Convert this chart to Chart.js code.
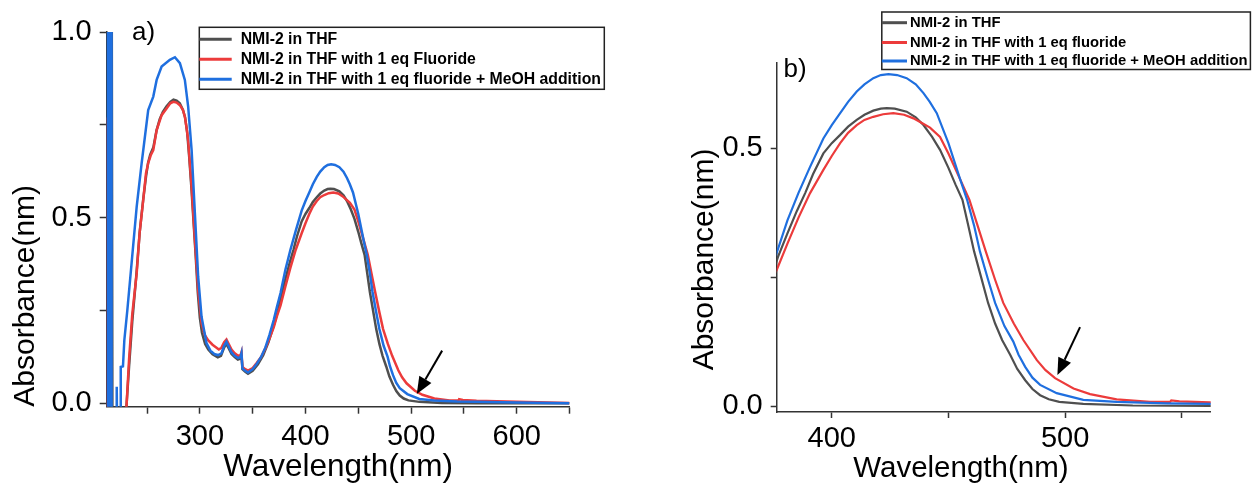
<!DOCTYPE html>
<html>
<head>
<meta charset="utf-8">
<script src="https://cdn.jsdelivr.net/npm/chart.js@4"></script>
<style>
  html, body { margin: 0; padding: 0; background: #fff; }
  #wrap { position: relative; width: 1252px; height: 484px; }
  #panelA { position: absolute; left: 0; top: 0; }
  #panelB { position: absolute; left: 640px; top: 0; }
</style>
</head>
<body>
<div id="wrap">
  <canvas id="panelA" width="640" height="484"></canvas>
  <canvas id="panelB" width="612" height="484"></canvas>
</div>
<script>
// UV-vis absorbance spectra of NMI-2 (panel a: full range, panel b: visible band)

const thfNm = [212, 216.6, 217.2, 229.5, 230.7, 233, 236, 240, 243, 246.4, 249, 251, 253, 256, 259, 262, 265, 268.5, 272, 275, 278, 281, 284, 286, 288, 290, 292, 294, 296, 298, 300, 302, 305, 308, 312, 317, 320, 323, 325, 327, 330, 333, 336, 338, 339.4, 340.3, 343, 345.6, 350, 355, 360, 365, 370, 374, 377, 381, 385, 388.6, 392, 396.4, 400, 403.6, 407, 410.7, 414, 417.8, 421, 423.6, 427, 432.1, 436, 439.3, 443, 446.4, 450, 453, 456, 458.5, 461, 464, 467, 470, 473, 476.4, 479.5, 482.9, 486, 489.3, 493, 497.5, 507.8, 529, 562, 600, 650];
const thfAbs = [1.05, 1.05, -0.05, -0.05, 0.0, 0.1, 0.22, 0.35, 0.46, 0.55, 0.61, 0.648, 0.67, 0.69, 0.735, 0.765, 0.785, 0.8, 0.812, 0.818, 0.815, 0.808, 0.79, 0.77, 0.73, 0.66, 0.58, 0.49, 0.4, 0.3, 0.23, 0.19, 0.16, 0.145, 0.132, 0.124, 0.128, 0.15, 0.16, 0.15, 0.133, 0.125, 0.118, 0.12, 0.13, 0.092, 0.085, 0.08, 0.088, 0.105, 0.13, 0.165, 0.21, 0.25, 0.29, 0.335, 0.378, 0.413, 0.45, 0.49, 0.51, 0.526, 0.542, 0.555, 0.565, 0.573, 0.577, 0.578, 0.577, 0.571, 0.56, 0.545, 0.522, 0.497, 0.462, 0.43, 0.4, 0.35, 0.3, 0.25, 0.2, 0.16, 0.128, 0.1, 0.072, 0.05, 0.033, 0.021, 0.013, 0.008, 0.004, 0.001, 0.0, 0.0, 0.0];

const fluorNm = [211.9, 212.2, 229.5, 230.7, 233, 236, 240.2, 243, 246.4, 249, 251.1, 253.5, 255.9, 259.1, 263.8, 268.5, 272, 274.8, 278, 281.1, 284, 285.8, 287.5, 288.9, 292.2, 295.3, 298.4, 301.6, 304.5, 307.8, 312, 315.8, 318, 320.5, 323, 325.2, 327, 330, 333, 336.2, 338.5, 339.4, 340.3, 343, 345.6, 350, 353.6, 358, 362, 366, 370, 373, 376.4, 381, 385.7, 390.7, 396.4, 400, 403.6, 407, 410.7, 414, 417.8, 422, 426.4, 431, 435, 439, 442.1, 446.4, 450, 455, 459, 462.5, 466, 470, 473.5, 478, 482.1, 487.9, 491.5, 495.7, 503.6, 510.7, 522.1, 536.4, 545, 545.5, 549, 562, 600, 650];
const fluorAbs = [0.77, -0.05, -0.05, 0.0, 0.12, 0.24, 0.35, 0.46, 0.548, 0.62, 0.647, 0.668, 0.682, 0.736, 0.776, 0.794, 0.808, 0.812, 0.81, 0.803, 0.79, 0.772, 0.74, 0.709, 0.583, 0.44, 0.305, 0.216, 0.185, 0.17, 0.158, 0.15, 0.145, 0.15, 0.165, 0.172, 0.162, 0.145, 0.135, 0.128, 0.13, 0.138, 0.098, 0.092, 0.088, 0.095, 0.108, 0.125, 0.148, 0.175, 0.205, 0.235, 0.264, 0.315, 0.365, 0.413, 0.458, 0.485, 0.51, 0.53, 0.545, 0.555, 0.561, 0.566, 0.568, 0.565, 0.558, 0.548, 0.54, 0.522, 0.49, 0.44, 0.4, 0.35, 0.3, 0.245, 0.2, 0.16, 0.128, 0.089, 0.07, 0.054, 0.034, 0.023, 0.013, 0.008, 0.008, 0.011, 0.009, 0.007, 0.004, 0.001];

const meohNm = [212.3, 212.7, 213.1, 213.5, 213.9, 214.3, 214.7, 215.1, 215.5, 215.9, 216.3, 216.5, 221, 221.3, 221.6, 225, 225.1, 227.2, 228.5, 231.3, 235.4, 240.2, 244.9, 251.1, 255.9, 259.1, 263.8, 271.6, 276.4, 281.1, 285.8, 288.9, 292.2, 295.3, 298.4, 301.6, 306.3, 310, 314.2, 317.3, 320.5, 323, 325.2, 327, 330, 333, 336.2, 338.5, 339.4, 340.3, 343, 345.6, 350, 353.6, 358, 362, 366, 370, 373, 376.4, 381, 385.7, 390.7, 396.4, 400, 403.6, 407, 410.7, 414, 417.8, 421, 424.3, 428, 432.1, 436, 439.3, 442, 445, 450, 455, 458, 461, 463.5, 467, 470, 474, 477.8, 480, 482.9, 486, 489.3, 496.4, 507.8, 522.1, 543.6, 562, 600, 650];
const meohAbs = [1.05, -0.05, 1.05, -0.05, 1.05, -0.05, 1.05, -0.05, 1.05, -0.05, 1.05, -0.05, -0.05, 0.045, -0.05, -0.05, 0.098, 0.1, 0.17, 0.25, 0.378, 0.53, 0.647, 0.79, 0.826, 0.871, 0.907, 0.925, 0.932, 0.916, 0.871, 0.8, 0.682, 0.512, 0.341, 0.233, 0.162, 0.142, 0.132, 0.13, 0.135, 0.155, 0.166, 0.155, 0.137, 0.128, 0.122, 0.125, 0.135, 0.094, 0.088, 0.083, 0.092, 0.105, 0.125, 0.15, 0.185, 0.225, 0.26, 0.297, 0.36, 0.413, 0.464, 0.519, 0.545, 0.568, 0.59, 0.61, 0.624, 0.636, 0.642, 0.644, 0.642, 0.636, 0.624, 0.607, 0.59, 0.568, 0.51, 0.44, 0.4, 0.35, 0.3, 0.245, 0.2, 0.155, 0.125, 0.1, 0.076, 0.055, 0.041, 0.025, 0.012, 0.008, 0.005, 0.004, 0.002, 0.0];

const legendA = ["NMI-2 in THF", "NMI-2 in THF with 1 eq Fluoride", "NMI-2 in THF with 1 eq fluoride + MeOH addition"];
const legendB = ["NMI-2 in THF", "NMI-2 in THF with 1 eq fluoride", "NMI-2 in THF with 1 eq fluoride + MeOH addition"];

const xLabelsA = [300, 400, 500, 600];
const yLabelsA = [0, 0.5, 1.0];
const xLabelsB = [400, 500];
const yLabelsB = [0, 0.5];

const COLORS = { thf: "#4f4f4f", fluor: "#ec3b3b", meoh: "#1f6fdf" };
const FONT = "'Liberation Sans', Arial, Helvetica, sans-serif";

const toPoints = (nm, abs) => nm.map((x, i) => ({ x, y: abs[i] }));

// legend box, panel tag and arrow, drawn over the spectra
const overlayPlugin = {
  id: "overlay",
  afterDatasetsDraw(chart, args, opts) {
    const { ctx } = chart;
    const sx = chart.scales.x;
    const sy = chart.scales.y;
    ctx.save();

    // arrow, given in data units
    const x0 = sx.getPixelForValue(opts.arrowFrom[0]);
    const y0 = sy.getPixelForValue(opts.arrowFrom[1]);
    const x1 = sx.getPixelForValue(opts.arrowTo[0]);
    const y1 = sy.getPixelForValue(opts.arrowTo[1]);
    const ang = Math.atan2(y1 - y0, x1 - x0);
    const head = 17, half = 7;
    const bx = x1 - head * Math.cos(ang);
    const by = y1 - head * Math.sin(ang);
    ctx.strokeStyle = "#000";
    ctx.lineWidth = 2;
    ctx.beginPath();
    ctx.moveTo(x0, y0);
    ctx.lineTo(bx, by);
    ctx.stroke();
    ctx.fillStyle = "#000";
    ctx.beginPath();
    ctx.moveTo(x1, y1);
    ctx.lineTo(bx + half * Math.sin(ang), by - half * Math.cos(ang));
    ctx.lineTo(bx - half * Math.sin(ang), by + half * Math.cos(ang));
    ctx.closePath();
    ctx.fill();

    // panel tag
    ctx.font = opts.tagFont;
    ctx.textAlign = "left";
    ctx.textBaseline = "alphabetic";
    ctx.fillText(opts.tag, opts.tagX, opts.tagY);

    // legend
    const L = opts.legend;
    ctx.fillStyle = "#fff";
    ctx.fillRect(L.x, L.y, L.w, L.h);
    ctx.strokeStyle = "#222";
    ctx.lineWidth = 1.5;
    ctx.strokeRect(L.x, L.y, L.w, L.h);
    ctx.font = L.font;
    ctx.textBaseline = "middle";
    chart.data.datasets.forEach((ds, i) => {
      const ry = L.rowY[i];
      ctx.strokeStyle = ds.borderColor;
      ctx.lineWidth = 3;
      ctx.beginPath();
      ctx.moveTo(L.x, ry);
      ctx.lineTo(L.x + L.sample, ry);
      ctx.stroke();
      ctx.fillStyle = "#000";
      ctx.fillText(ds.label, L.x + L.textDx, ry);
    });
    ctx.restore();
  },
};

function makePanel(canvasId, cfg) {
  const datasets = [
    { label: cfg.legend[0], data: toPoints(thfNm, thfAbs), borderColor: COLORS.thf, order: 3 },
    { label: cfg.legend[1], data: toPoints(fluorNm, fluorAbs), borderColor: COLORS.fluor, order: 2 },
    { label: cfg.legend[2], data: toPoints(meohNm, meohAbs), borderColor: COLORS.meoh, order: 1 },
  ];
  datasets.forEach(ds => {
    ds.borderWidth = cfg.lineWidth;
    ds.pointRadius = 0;
    ds.fill = false;
    ds.tension = 0;
  });

  return new Chart(document.getElementById(canvasId), {
    type: "line",
    data: { datasets },
    plugins: [overlayPlugin],
    options: {
      responsive: false,
      animation: false,
      events: [],
      layout: { padding: { top: cfg.top, right: cfg.right, left: 0, bottom: 0 } },
      plugins: {
        legend: { display: false },
        tooltip: { enabled: false },
        overlay: cfg.overlay,
      },
      scales: {
        x: {
          type: "linear",
          min: cfg.xMin,
          max: cfg.xMax,
          border: { display: true, color: "#333", width: 1.5 },
          grid: { drawOnChartArea: false, drawTicks: true, tickLength: cfg.tickLen, tickColor: "#333", tickWidth: 1.5 },
          ticks: {
            stepSize: 50,
            includeBounds: false,
            autoSkip: false,
            maxRotation: 0,
            color: "#000",
            padding: cfg.xTickPad,
            font: { family: FONT, size: 29, lineHeight: 1 },
            callback: v => (cfg.xLabels.includes(v) ? String(v) : ""),
          },
          title: {
            display: true,
            text: cfg.xTitle,
            color: "#000",
            padding: { top: 0, bottom: cfg.xTitlePad },
            font: { family: FONT, size: cfg.xTitleSize, lineHeight: 1 },
          },
          afterFit(scale) { scale.height = cfg.xHeight; },
        },
        y: {
          type: "linear",
          min: cfg.yMin,
          max: cfg.yMax,
          border: { display: true, color: "#333", width: 1.5 },
          grid: { drawOnChartArea: false, drawTicks: true, tickLength: cfg.tickLen, tickColor: "#333", tickWidth: 1.5 },
          ticks: {
            stepSize: 0.25,
            includeBounds: false,
            autoSkip: false,
            color: "#000",
            padding: 8,
            font: { family: FONT, size: 29, lineHeight: 1 },
            callback: v => (cfg.yLabels.some(t => Math.abs(t - v) < 1e-6) ? v.toFixed(1) : ""),
          },
          title: {
            display: true,
            text: cfg.yTitle,
            align: "start",
            color: "#000",
            padding: { top: cfg.yTitlePad, bottom: 0 },
            font: { family: FONT, size: 30, lineHeight: 1 },
          },
          afterFit(scale) { scale.width = cfg.yWidth; },
        },
      },
    },
  });
}

makePanel("panelA", {
  legend: legendA,
  lineWidth: 2.5,
  top: 32, right: 70.5,
  xMin: 211.8, xMax: 650, yMin: -0.009, yMax: 1.0,
  xLabels: xLabelsA, yLabels: yLabelsA,
  tickLen: 7, xTickPad: 9,
  xHeight: 77.3, yWidth: 106.7,
  xTitle: "Wavelength(nm)", xTitleSize: 31.5, xTitlePad: 1,
  yTitle: "Absorbance(nm)", yTitlePad: 10.6,
  overlay: {
    arrowFrom: [529.4, 0.142], arrowTo: [505.4, 0.025],
    tag: "a)", tagFont: `26px ${FONT}`, tagX: 132, tagY: 39.5,
    legend: { x: 199.3, y: 27.3, w: 405, h: 62, rowY: [39.3, 59.3, 79.3], sample: 32.4, textDx: 41.4, font: `bold 15.8px ${FONT}` },
  },
});

makePanel("panelB", {
  legend: legendB,
  lineWidth: 2.2,
  top: 62.7, right: 41.3,
  xMin: 376.4, xMax: 562.4, yMin: -0.0116, yMax: 0.666,
  xLabels: xLabelsB, yLabels: yLabelsB,
  tickLen: 6, xTickPad: 6,
  xHeight: 72, yWidth: 136.7,
  xTitle: "Wavelength(nm)        ", xTitleSize: 29.5, xTitlePad: 0,
  yTitle: "     Absorbance(nm)", yTitlePad: 49.6,
  overlay: {
    arrowFrom: [506.4, 0.153], arrowTo: [496.7, 0.06],
    tag: "b)", tagFont: `26px ${FONT}`, tagX: 143.5, tagY: 76.5,
    legend: { x: 241.8, y: 12, w: 368.6, h: 57.5, rowY: [22.7, 42.5, 61], sample: 25.2, textDx: 28.2, font: `bold 14.8px ${FONT}` },
  },
});
</script>
</body>
</html>
